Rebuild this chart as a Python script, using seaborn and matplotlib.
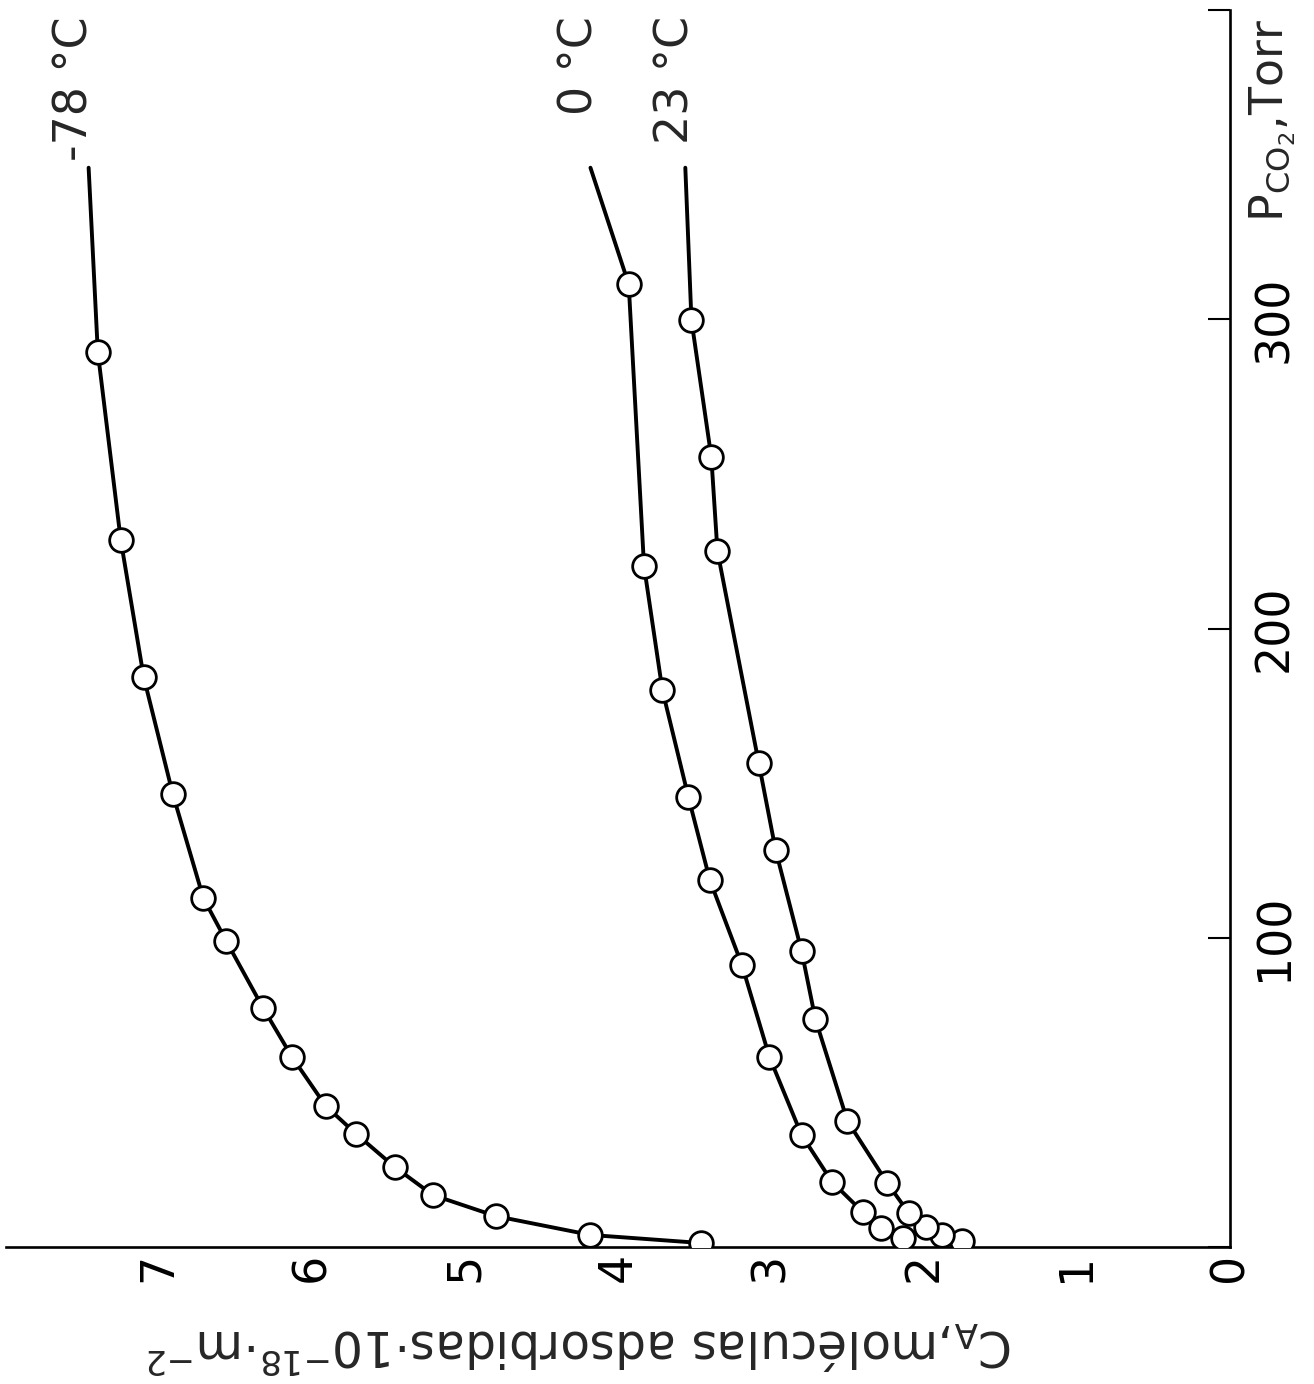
import matplotlib.pyplot as plt
import seaborn as sns
import pandas as pd

p_m78 = [1.3, 3.9, 10.0, 16.8, 25.9, 36.5, 45.6, 61.4, 77.3, 98.9, 112.8, 146.5, 184.3, 228.6, 289.4]
c_m78 = [3.46, 4.18, 4.80, 5.21, 5.46, 5.71, 5.91, 6.13, 6.32, 6.56, 6.71, 6.91, 7.10, 7.25, 7.40]

p_0 = [2.9, 6.1, 11.3, 21.0, 36.2, 61.4, 91.2, 118.7, 145.5, 180.1, 220.2, 311.3]
c_0 = [2.14, 2.28, 2.40, 2.60, 2.80, 3.01, 3.19, 3.40, 3.54, 3.71, 3.83, 3.93]

p_23 = [1.9, 3.9, 6.5, 11.0, 20.7, 40.7, 73.7, 95.7, 128.4, 156.5, 225.0, 255.4, 299.7]
c_23 = [1.75, 1.88, 1.99, 2.10, 2.24, 2.50, 2.71, 2.80, 2.97, 3.08, 3.35, 3.39, 3.52]

# where the drawn curves stop at the top of the figure
curve_end_p = [349.0, 349.0, 349.0]
curve_end_c = [7.46, 4.18, 3.56]
curve_names = ['-78 °C', '0 °C', '23 °C']
label_c = [7.55, 4.25, 3.62]

p_ticks = [0, 100, 200, 300, 400]
p_ticklabels = ['', '100', '200', '300', '']
c_ticks = [0, 1, 2, 3, 4, 5, 6, 7]

sns.set_style('white')
plt.rcParams['font.family'] = ['DejaVu Sans']
plt.rcParams['mathtext.default'] = 'regular'

W, H = 1314, 1384
fig = plt.figure(figsize=(W / 100, H / 100), dpi=100)
# axes box in pixels: left 6, right 1230, bottom 1247, top 10
ax = fig.add_axes([6 / W, (H - 1247) / H, 1224 / W, 1237 / H])


def draw_isotherm(ax, p, c, p_end, c_end, name, c_label):
    # line through the points, carried on to where the curve stops
    line = pd.DataFrame({'P': p + [p_end], 'C': c + [c_end]})
    sns.lineplot(data=line, x='C', y='P', sort=False, estimator=None,
                 color='black', lw=2.8, ax=ax, zorder=2)
    pts = pd.DataFrame({'P': p, 'C': c})
    sns.scatterplot(data=pts, x='C', y='P', s=290, color='white',
                    edgecolor='black', linewidth=2.0, ax=ax, zorder=3)
    # the temperature labels all hang from the top edge
    ax.text(c_label, 398, name, rotation=90, ha='center', va='top', fontsize=33)


for i, (p, c) in enumerate([(p_m78, c_m78), (p_0, c_0), (p_23, c_23)]):
    draw_isotherm(ax, p, c, curve_end_p[i], curve_end_c[i], curve_names[i], label_c[i])

# chart is turned a quarter turn: C_A runs right-to-left, pressure runs upward
ax.set_xlim(8.0, 0)
ax.set_ylim(0, 400)

for side in ['top', 'left']:
    ax.spines[side].set_visible(False)
for side in ['right', 'bottom']:
    ax.spines[side].set_linewidth(1.9)
    ax.spines[side].set_color('black')

ax.yaxis.tick_right()
ax.set_yticks(p_ticks)
ax.set_yticklabels(p_ticklabels, rotation=90, va='center')
ax.set_xticks(c_ticks)
ax.set_xticklabels([str(v) for v in c_ticks], rotation=90, ha='center')
ax.tick_params(axis='y', direction='in', length=16, width=1.5, pad=16, labelsize=33,
               colors='black')
ax.tick_params(axis='x', direction='in', length=14, width=1.5, pad=4, labelsize=33,
               colors='black')

ax.set_ylabel('')
ax.set_xlabel(r'C$_A$,moléculas adsorbidas·10$^{-18}$·m$^{-2}$', fontsize=35,
              rotation=180, va='center', ha='center')
ax.xaxis.set_label_coords((580 - 6) / 1224, -(1347 - 1247) / 1237)

ax.text((1273 - 6) / 1224, (1247 - 121) / 1237, r'P$_{CO_2}$,Torr', rotation=90,
        ha='center', va='center', fontsize=33, transform=ax.transAxes)

ax.grid(False)
fig.savefig('out.png', dpi=100)
